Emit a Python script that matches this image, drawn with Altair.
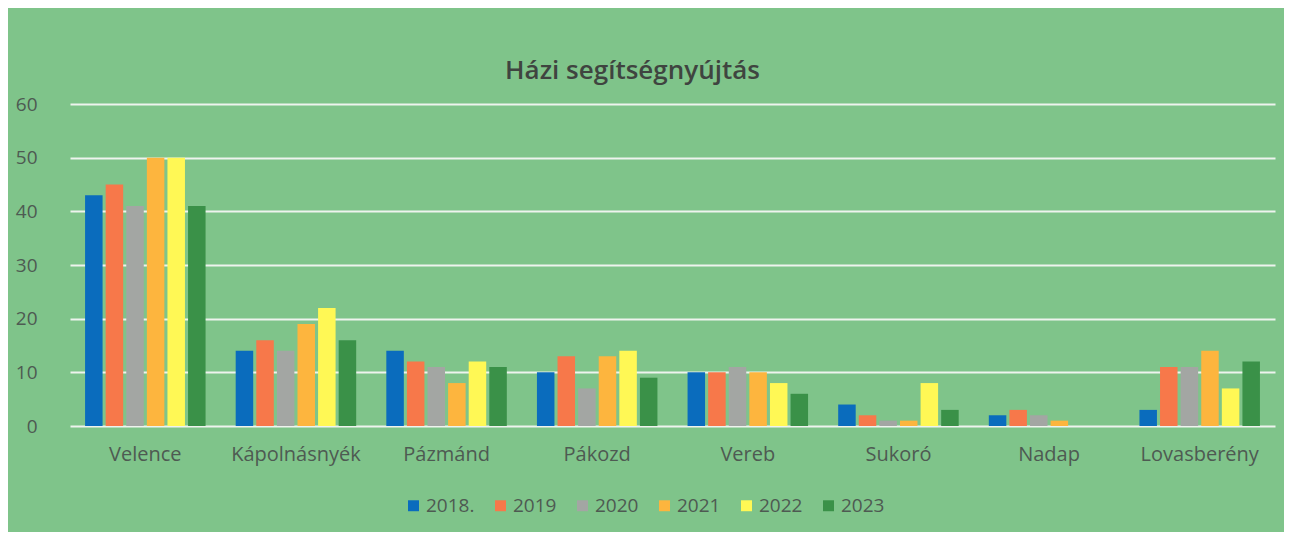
import altair as alt
import pandas as pd

towns = ["Velence", "Kápolnásnyék", "Pázmánd", "Pákozd", "Vereb", "Sukoró", "Nadap", "Lovasberény"]
years = ["2018.", "2019", "2020", "2021", "2022", "2023"]
v2018 = [43, 14, 14, 10, 10, 4, 2, 3]
v2019 = [45, 16, 12, 13, 10, 2, 3, 11]
v2020 = [41, 14, 11, 7, 11, 1, 2, 11]
v2021 = [50, 19, 8, 13, 10, 1, 1, 14]
v2022 = [50, 22, 12, 14, 8, 8, 0, 7]
v2023 = [41, 16, 11, 9, 6, 3, 0, 12]
colors = ["#0A6CBD", "#F7784A", "#A3A6A3", "#FDB53E", "#FFF855", "#3A9148"]

series = [v2018, v2019, v2020, v2021, v2022, v2023]
rows = []
for y, vals in zip(years, series):
    for t, v in zip(towns, vals):
        rows.append({"Település": t, "Év": y, "Érték": v})
df = pd.DataFrame(rows)

txt = "#4E5A52"
font = "Open Sans"

chart = alt.Chart(df).mark_bar().encode(
    x=alt.X("Település:N", sort=towns, title=None,
            scale=alt.Scale(paddingInner=0.2, paddingOuter=0.1),
            axis=alt.Axis(labelAngle=0, domain=False, ticks=False, labelPadding=18,
                          labelFontSize=20, labelColor=txt, labelFont=font)),
    xOffset=alt.XOffset("Év:N", sort=years, scale=alt.Scale(paddingInner=0.15)),
    y=alt.Y("Érték:Q", title=None,
            scale=alt.Scale(domain=[0, 60]),
            axis=alt.Axis(values=[0, 10, 20, 30, 40, 50, 60], domain=False, ticks=False,
                          labelPadding=33, labelFontSize=19, labelColor=txt, labelFont=font,
                          gridColor="#EEF3EE", gridWidth=2)),
    color=alt.Color("Év:N", sort=years,
                    scale=alt.Scale(domain=years, range=colors),
                    legend=alt.Legend(title=None, orient="none", direction="horizontal",
                                      legendX=334, legendY=392,
                                      symbolType="square", symbolSize=120, symbolStrokeWidth=0,
                                      labelFontSize=19, labelColor=txt, labelFont=font,
                                      columnPadding=16, labelOffset=3)),
).properties(
    width=1205, height=322,
    padding={"left": 62, "right": 9, "top": 96, "bottom": 106},
    autosize=alt.AutoSizeParams(type="none"),
    background="#7FC48A",
    title=alt.TitleParams("Házi segítségnyújtás", fontSize=26, font=font, fontWeight=600,
                          color="#3F4440", offset=11, dx=-40, anchor="middle"),
).configure_view(stroke=None)

chart.save("out.html", embed_options={"renderer": "svg", "actions": False})
